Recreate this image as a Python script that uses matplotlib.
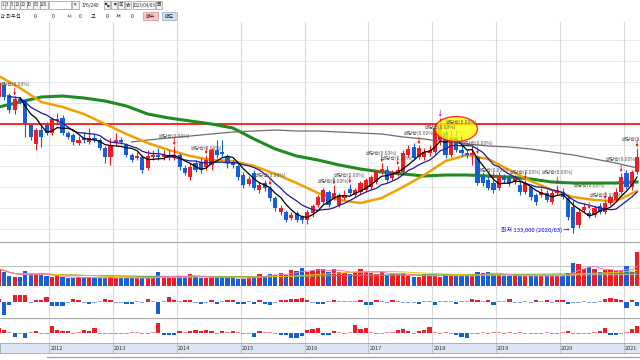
import matplotlib
matplotlib.use('Agg')
import matplotlib.pyplot as plt
from matplotlib.patches import Ellipse, Rectangle
import numpy as np
import pandas as pd

plt.rcParams['font.family'] = ['Noto Sans CJK KR', 'DejaVu Sans']

# monthly candles, Mar 2011 .. Mar 2021 (price in thousand won)
months = pd.date_range('2011-03-01', periods=121, freq='MS')

opens = [269, 281, 271, 256, 267, 266, 241, 222, 236, 241,
         233, 245, 248, 233, 231, 223, 228, 224, 228, 226,
         218, 209, 223, 226, 221, 211, 208, 209, 198, 209,
         211, 209, 208, 208, 211, 198, 189, 203, 204, 199,
         201, 216, 214, 209, 204, 200, 191, 182, 193, 176,
         183, 178, 168, 154, 154, 148, 153, 149, 146, 153,
         161, 164, 174, 168, 161, 168, 177, 171, 174, 176,
         179, 184, 194, 196, 188, 193, 194, 211, 219, 209,
         209, 213, 214, 226, 234, 211, 229, 216, 213, 211,
         209, 191, 186, 183, 178, 189, 189, 184, 181, 174,
         179, 171, 171, 173, 164, 173, 174, 168, 159, 141,
         156, 153, 151, 160, 154, 163, 166, 174, 193, 179, 194]
closes = [283, 269, 256, 267, 265, 243, 229, 236, 229, 233,
          247, 247, 233, 229, 224, 226, 226, 228, 226, 218,
          209, 221, 226, 224, 211, 206, 210, 196, 210, 211,
          209, 211, 211, 211, 199, 193, 199, 196, 196, 206,
          216, 211, 212, 203, 201, 189, 181, 187, 178, 181,
          178, 168, 158, 158, 146, 151, 146, 146, 154, 160,
          169, 176, 161, 173, 171, 171, 173, 176, 183, 186,
          189, 194, 197, 186, 194, 196, 213, 217, 208, 218,
          214, 216, 238, 239, 211, 229, 216, 213, 211, 213,
          183, 183, 178, 176, 191, 186, 183, 188, 174, 183,
          169, 164, 174, 166, 173, 176, 169, 149, 138, 154,
          159, 150, 158, 154, 163, 169, 174, 189, 179, 194, 209]
highs = [286, 284, 273, 270, 269, 267, 243, 238, 240, 244,
         249, 253, 251, 235, 233, 230, 234, 238, 232, 228,
         220, 228, 233, 229, 223, 213, 214, 211, 216, 216,
         218, 216, 216, 220, 213, 201, 203, 206, 208, 211,
         218, 226, 226, 212, 206, 202, 194, 190, 196, 184,
         186, 180, 170, 161, 156, 154, 155, 151, 156, 162,
         171, 178, 176, 181, 173, 176, 182, 178, 185, 188,
         191, 196, 203, 200, 196, 200, 216, 221, 223, 221,
         218, 221, 242, 248, 238, 236, 236, 221, 216, 221,
         211, 194, 190, 186, 194, 192, 191, 191, 184, 186,
         181, 173, 178, 176, 176, 181, 178, 171, 166, 158,
         163, 156, 161, 163, 166, 171, 178, 193, 196, 196, 218]
lows = [267, 266, 253, 252, 262, 229, 226, 216, 219, 231,
        231, 242, 231, 227, 221, 221, 223, 222, 224, 216,
        203, 201, 221, 222, 209, 204, 206, 193, 196, 206,
        206, 206, 206, 206, 196, 191, 186, 194, 193, 196,
        196, 208, 209, 198, 198, 186, 178, 180, 176, 173,
        175, 165, 155, 151, 144, 146, 144, 143, 142, 149,
        159, 162, 159, 166, 159, 166, 171, 169, 172, 174,
        177, 182, 192, 184, 186, 190, 192, 209, 206, 207,
        206, 210, 212, 221, 208, 209, 214, 210, 208, 201,
        181, 180, 176, 173, 176, 183, 180, 182, 171, 172,
        166, 161, 169, 164, 162, 171, 167, 146, 133, 138,
        154, 148, 149, 152, 152, 161, 164, 172, 177, 176, 192]
volume = [17, 14, 10, 9, 9, 15, 12, 12, 11, 10,
          9, 10, 9, 8, 8, 9, 8, 9, 8, 8,
          8, 9, 8, 8, 8, 8, 8, 8, 8, 8,
          14, 8, 8, 10, 10, 10, 12, 9, 8, 8,
          9, 8, 9, 8, 8, 7, 7, 9, 10, 12,
          10, 12, 11, 13, 11, 16, 15, 18, 14, 15,
          17, 17, 14, 17, 14, 13, 12, 14, 17, 14,
          13, 12, 14, 11, 12, 12, 13, 10, 9, 9,
          12, 11, 10, 9, 12, 10, 10, 10, 10, 10,
          14, 13, 14, 12, 11, 10, 10, 10, 10, 10,
          10, 10, 10, 10, 10, 10, 10, 13, 23, 22,
          17, 19, 17, 14, 16, 16, 15, 16, 20, 14, 34]
chg = [3, -13, -3, 7, 7, 7, -1, 2, 2, 5,
       -4, -4, -4, -1, 3, 2, -1, -2, -1, 1,
       3, 2, -1, -1, -2, -2, 1, -1, 3, 1,
       -12, 1, 5, 2, 1, 2, 2, -1, -2, -1,
       2, -2, 1, 2, 2, -2, -2, 1, -2, 2,
       -2, -3, -1, 2, 2, 3, 3, 4, 2, -1,
       -2, -2, 1, 2, 1, 1, 1, 1, 2, -3,
       -3, 2, 1, -1, 2, 1, -1, -1, -1, -2,
       1, 1, -3, 1, 1, 1, -2, 1, 1, 3,
       2, 1, 2, -3, 1, 1, 3, -1, -1, 1,
       -1, 2, 1, 2, -1, 2, 2, -2, -1, -1,
       1, -1, -1, 1, 3, 4, 3, 2, -6, 2, -4]
osc = [5, 3, 1, -4, -1, -5, 1, 2, -1, -1,
       7, 3, 2, 2, -1, 1, 3, 2, 5, -1,
       -1, -1, -1, -1, -1, 1, 1, -1, -1, 1,
       10, -2, -2, -2, 2, 1, 2, 3, 2, 3,
       2, -1, 2, 1, 2, 1, -1, -1, -4, 2,
       1, 1, -1, -2, -2, -5, -5, -3, 3, 4,
       5, -2, -2, 2, 1, -1, 1, 8, 4, 5,
       1, -1, -1, 1, 1, 3, 4, 2, -1, 2,
       3, 6, 1, -1, 1, -1, -2, -4, -5, -1,
       -1, 1, -1, 1, 1, -1, 1, -1, 1, -1,
       -1, -1, -1, 1, -1, -1, 1, 2, -1, -1,
       -1, -1, 1, 2, 5, -2, -2, -1, 1, 4, 7]

# long moving averages every 4 months
ma_idx = list(range(0, 121, 4))
ma20 = [290, 278, 264, 259, 252, 242, 232, 223, 216, 210, 206, 205, 200, 192, 183, 173,
        166, 163, 168, 179, 191, 205, 211, 207, 196, 185, 176, 169, 166, 165, 175]
ma60 = [259, 264, 269, 270, 268, 265, 260, 252, 248, 245, 242, 238, 227, 217, 210, 206,
        201, 197, 194, 192, 190, 191, 191, 190, 189, 187, 184, 183, 183, 183, 184]
ma120_idx = [25] + list(range(28, 121, 4))
ma120 = [224, 226, 228, 230, 232, 234, 235, 236, 235, 235, 234, 233, 232,
         229, 227, 224, 222, 220, 219, 217, 214, 211, 207, 203, 198]

div_idx = [3, 33, 39, 51, 63, 66, 72, 75, 79, 83, 87, 90, 93, 99, 105, 111, 114, 117, 120]
ref_price = 242
low_idx = 108

# label lift above the candle high, in points (layout only)
label_lift = {3: 8.6, 33: 7.2, 39: 4.5, 51: 8, 63: 2.5, 66: 6.5, 72: 7.2, 75: 5.8,
              79: 8.6, 83: -6.5, 87: 16.6, 90: 8.6, 93: 7.2, 99: 5.8, 105: 9.4,
              111: 17.5, 114: 3.5, 117: 10, 120: 6.5}

RED = '#ee1c24'
BLUE = '#1560d4'

n = len(months)
idx = np.arange(n)
o = np.array(opens); c = np.array(closes); h = np.array(highs); l = np.array(lows)
up = c >= o
cols = np.where(up, RED, BLUE)
ma5 = pd.Series(closes).rolling(5).mean()
ma10 = pd.Series(closes).rolling(10, min_periods=3).mean()

W, H = 640, 360
fig = plt.figure(figsize=(6.4, 3.6), dpi=100)
fig.patch.set_facecolor('white')


def px_axes(y0, y1):
    return fig.add_axes([0, 1 - y1 / H, 1, (y1 - y0) / H])


XL = (0.24, 120.55)
year_pos = [i - 0.5 for i, d in enumerate(months) if d.month == 1]

# ---- main price panel
ax = px_axes(22, 242)
ax.set_xlim(*XL)
ax.set_ylim(124, 344)
for g in [137, 158, 179, 200, 221, 263, 284, 305, 326]:
    ax.axhline(g, color='#ebebeb', lw=0.7, zorder=0)
for xp in year_pos:
    ax.axvline(xp, color='#d9d9d9', lw=0.8, zorder=0)
ax.axhline(ref_price, color='#ff0000', lw=1.2, zorder=1)

ax.plot(ma_idx, ma60, color='#1e8c1e', lw=2.2, zorder=2)
ax.plot(ma120_idx, ma120, color='#6e6e6e', lw=0.9, zorder=2)
ax.plot(ma_idx, ma20, color='#f0a000', lw=1.8, zorder=2)

ax.vlines(idx, l, h, colors=cols, lw=0.8, zorder=3)
body = np.maximum(np.abs(c - o), 0.8)
ax.bar(idx, body, bottom=np.minimum(o, c), width=0.78, color=cols, zorder=4, linewidth=0)

ax.plot(idx, ma10, color='#1a1aa0', lw=0.9, zorder=5)
ax.plot(idx, ma5, color='#000000', lw=0.9, zorder=5)

ax.add_patch(Ellipse((86, 237), 8, 25, facecolor='#ffff00', edgecolor='#ff0000',
                     lw=1.0, alpha=0.8, zorder=6))

for j in div_idx:
    acol = '#e020e0' if 82 <= j <= 89 else '#ff0000'
    ax.annotate('', xy=(j, h[j] + 1), xytext=(0, 5), textcoords='offset points',
                arrowprops=dict(arrowstyle='-|>', color=acol, lw=0.5,
                                mutation_scale=3, shrinkA=0, shrinkB=0), zorder=7)
    ax.annotate('배당락(0.00%)', xy=(j, h[j]), xytext=(0, label_lift[j]),
                textcoords='offset points', ha='center', va='center',
                fontsize=3.6, color='#555555', zorder=8)

ax.annotate('최저 133,000 (2020/03) →', xy=(low_idx, lows[low_idx]), xytext=(-3, 2),
            textcoords='offset points', ha='right', va='center', fontsize=4.3,
            color='#0000ff', zorder=8)
ax.axis('off')

# ---- volume panel
av = px_axes(242, 286)
av.set_xlim(*XL)
av.set_ylim(0, 44)
for xp in year_pos:
    av.axvline(xp, color='#d9d9d9', lw=0.8, zorder=0)
av.axhline(44, color='#a8a8a8', lw=0.9)
av.axhline(20, color='#c4c4c4', lw=0.8)
av.bar(idx, volume, width=0.8, color=cols, linewidth=0, zorder=2)
vs = pd.Series(volume)
av.plot(idx, vs.rolling(120, min_periods=1).mean(), color='#b0b0b0', lw=0.7, zorder=3)
av.plot(idx, vs.rolling(60, min_periods=1).mean(), color='#3cb043', lw=0.7, zorder=3)
av.plot(idx, vs.rolling(20, min_periods=1).mean(), color='#f0c000', lw=0.7, zorder=3)
av.plot(idx, vs.rolling(5, min_periods=1).mean(), color='#ff70c0', lw=0.7, zorder=3)
av.axis('off')


def osc_panel(y0, y1, vals, lim):
    a = px_axes(y0, y1)
    a.set_xlim(*XL)
    a.set_ylim(*lim)
    for xp in year_pos:
        a.axvline(xp, color='#d9d9d9', lw=0.8, zorder=0)
    v = np.array(vals)
    bc = [(RED if x > 0 else BLUE) if abs(x) > 1 else ('#f08a8a' if x > 0 else '#7ea6e6')
          for x in v]
    a.bar(idx, v, width=0.8, color=bc, linewidth=0, zorder=2)
    a.axis('off')
    return a


a2 = osc_panel(286, 318, chg, (-16, 16))
a3 = osc_panel(318, 343, osc, (-10, 15))
a3.axhline(15, color='#a8a8a8', lw=0.9)

# ---- date strip
ad = px_axes(343, 353)
ad.set_xlim(*XL)
ad.set_ylim(0, 1)
ad.set_facecolor('#dce6f2')
for xp in year_pos:
    ad.axvline(xp, color='#b8c4d4', lw=0.8)
    ad.text(xp + 0.2, 0.45, str(months[int(xp + 0.5)].year), fontsize=4, color='#333333',
            ha='left', va='center')
ad.set_xticks([]); ad.set_yticks([])
for s in ad.spines.values():
    s.set_color('#a0a8b8'); s.set_linewidth(0.6)

ab = px_axes(353, 360)
ab.set_xlim(0, W); ab.set_ylim(7, 0)
ab.axhline(4, xmin=47 / W, xmax=1, color='#a0a0a0', lw=0.9)
ab.axis('off')

# ---- toolbar
tb = px_axes(0, 22)
tb.set_xlim(0, W); tb.set_ylim(22, 0)
tb.axis('off')
for lab, x0, w in [('1', 0.5, 4.5), ('3', 5, 4.5), ('5', 9.5, 4.5), ('10', 14, 6),
                   ('20', 20, 6.5), ('30', 26.5, 6.5), ('60', 33, 6.5), ('120', 39.5, 8)]:
    tb.add_patch(Rectangle((x0, 1), w, 8, facecolor='#f4f4f4', edgecolor='#9a9a9a', lw=0.5))
    tb.text(x0 + w / 2, 5, lab, fontsize=3.2, ha='center', va='center', color='#333333')
tb.add_patch(Rectangle((49, 1), 22, 8, facecolor='white', edgecolor='#9a9a9a', lw=0.5))
tb.add_patch(Rectangle((72, 1), 7, 8, facecolor='#f4f4f4', edgecolor='#9a9a9a', lw=0.5))
tb.text(75.5, 5, '▾', fontsize=3.4, ha='center', va='center', color='#333333')
tb.text(82, 5, '176/240', fontsize=3.4, ha='left', va='center', color='#222222')
for k, g in enumerate(['▚', '▝', '▣', '✿']):
    tb.add_patch(Rectangle((104 + k * 7, 1), 6, 8, facecolor='#f4f4f4',
                           edgecolor='#9a9a9a', lw=0.5))
    tb.text(107 + k * 7, 5, g, fontsize=3.2, ha='center', va='center', color='#333333')
tb.add_patch(Rectangle((133, 1), 22, 8, facecolor='white', edgecolor='#9a9a9a', lw=0.5))
tb.text(144, 5, '2023/04/03', fontsize=3.1, ha='center', va='center', color='#222222')
tb.add_patch(Rectangle((156, 1), 6, 8, facecolor='#f4f4f4', edgecolor='#9a9a9a', lw=0.5))
tb.text(159, 5, '▦', fontsize=3.2, ha='center', va='center', color='#333333')

for txt, x in [('간 최우선', 0), ('0', 34), ('0', 52), ('시', 67), ('0', 79),
               ('고', 91), ('0', 106), ('저', 116), ('0', 131)]:
    tb.text(x, 16, txt, fontsize=3.8, ha='left', va='center', color='#222222')
tb.add_patch(Rectangle((143, 12), 15, 8, facecolor='#f6c6c6', edgecolor='#d09090', lw=0.5))
tb.text(150.5, 16, '매수', fontsize=3.6, ha='center', va='center', color='#222222')
tb.add_patch(Rectangle((162, 12), 15, 8, facecolor='#cfe0f5', edgecolor='#90a8d0', lw=0.5))
tb.text(169.5, 16, '매도', fontsize=3.6, ha='center', va='center', color='#222222')
tb.axhline(21.5, color='#c0c0c0', lw=0.8)

fig.savefig('out.png', dpi=100)
